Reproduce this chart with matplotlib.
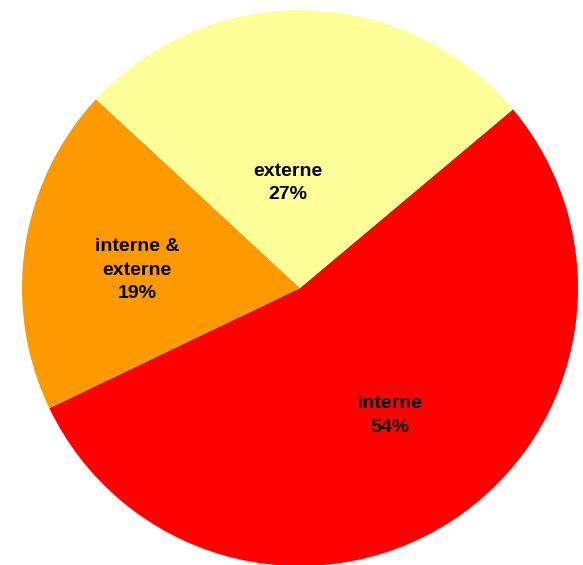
import numpy as np
import matplotlib
matplotlib.use("Agg")
import matplotlib.pyplot as plt

# slice data, clockwise from the upper right
labels = ["interne", "interne &\nexterne", "externe"]
shares = [54, 19, 27]
colors = ["#FF0000", "#FF9900", "#FFFF99"]
label_r = [0.56, 0.59, 0.38]     # how far out each label sits
label_turn = [2.4, 2.3, 7.9]     # small angle nudge, degrees

plt.rcParams['font.family'] = ['Liberation Sans', 'DejaVu Sans']

fig = plt.figure(figsize=(5.83, 5.65), dpi=100)
W, H = 583, 565
cx, cy, R = 300, 288, 278
ax = fig.add_axes([(cx - R) / W, (H - cy - R) / H, 2 * R / W, 2 * R / H])

wedges, _ = ax.pie(shares, colors=colors, startangle=40, counterclock=False,
                   radius=1.0, wedgeprops=dict(linewidth=0))

for w, lab, s, r, t in zip(wedges, labels, shares, label_r, label_turn):
    mid = np.deg2rad((w.theta1 + w.theta2) / 2 + t)
    ax.text(r * np.cos(mid), r * np.sin(mid), f"{lab}\n{s}%",
            ha="center", va="center", fontsize=14, fontweight="bold",
            linespacing=1.52)

ax.set_xlim(-1, 1)
ax.set_ylim(-1, 1)
ax.axis("off")

fig.savefig("out.png", dpi=100)
